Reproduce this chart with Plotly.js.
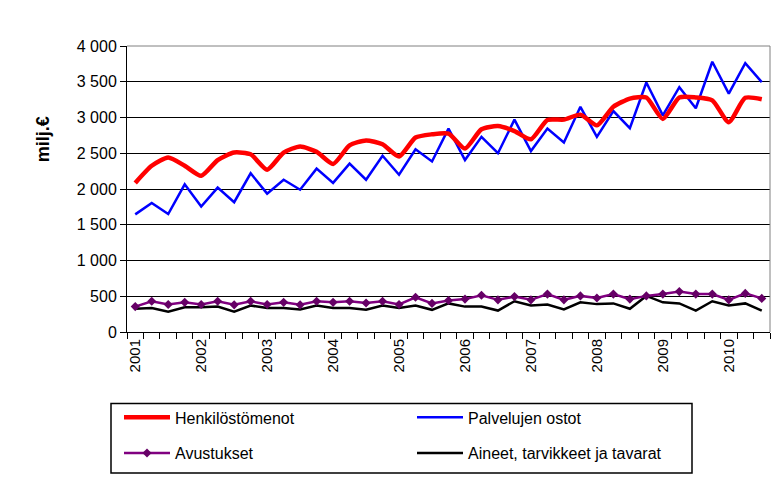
<!DOCTYPE html>
<html>
<head>
<meta charset="utf-8">
<script src="https://cdn.plot.ly/plotly-3.0.1.min.js"></script>
<style>html,body{margin:0;padding:0;background:#fff;}#chart{width:777px;height:477px;}</style>
</head>
<body>
<div id="chart"></div>
<script>
const quarters = [
  "2001 Q1","2001 Q2","2001 Q3","2001 Q4",
  "2002 Q1","2002 Q2","2002 Q3","2002 Q4",
  "2003 Q1","2003 Q2","2003 Q3","2003 Q4",
  "2004 Q1","2004 Q2","2004 Q3","2004 Q4",
  "2005 Q1","2005 Q2","2005 Q3","2005 Q4",
  "2006 Q1","2006 Q2","2006 Q3","2006 Q4",
  "2007 Q1","2007 Q2","2007 Q3","2007 Q4",
  "2008 Q1","2008 Q2","2008 Q3","2008 Q4",
  "2009 Q1","2009 Q2","2009 Q3","2009 Q4",
  "2010 Q1","2010 Q2","2010 Q3"
];
const yearLabels = ["2001","2002","2003","2004","2005","2006","2007","2008","2009","2010"];

const henkilostomenot = [2085,2325,2440,2325, 2185,2405,2510,2485, 2270,2510,2595,2520, 2350,2610,2680,2625, 2455,2720,2765,2775, 2565,2835,2880,2810, 2695,2965,2970,3040, 2890,3150,3265,3280, 2980,3280,3280,3240, 2935,3275,3255];
const palvelujenOstot = [1645,1805,1650,2065, 1755,2020,1815,2220, 1935,2130,1990,2285, 2085,2355,2130,2465, 2200,2555,2385,2845, 2405,2730,2500,2970, 2530,2845,2650,3150, 2730,3090,2850,3490, 3030,3425,3130,3780, 3335,3760,3495];
const avustukset = [355,430,385,415, 385,430,380,430, 385,415,380,430, 415,430,405,430, 385,485,400,440, 460,515,450,495, 450,530,450,505, 475,530,460,505, 530,565,530,530, 450,540,470];
const aineet = [325,335,285,345, 345,355,285,370, 335,335,315,370, 335,335,310,370, 335,370,310,400, 355,355,300,430, 370,385,315,415, 390,400,325,505, 415,400,300,430, 370,400,300];

const yTickVals = [0,500,1000,1500,2000,2500,3000,3500,4000];
const yTickText = ["0","500","1 000","1 500","2 000","2 500","3 000","3 500","4 000"];

const seriesNames = ["Henkilöstömenot","Palvelujen ostot","Avustukset","Aineet, tarvikkeet ja tavarat"];

const xIdx = quarters.map((q, i) => i);
const yearTickVals = yearLabels.map(y => quarters.indexOf(y + " Q1"));

const FONT = "Liberation Sans, Arial, sans-serif";

const traces = [
  {x: xIdx, y: aineet, name: seriesNames[3], type: "scatter", mode: "lines",
   line: {color: "#000000", width: 2.5}, legend: "legend4"},
  {x: xIdx, y: avustukset, name: seriesNames[2], type: "scatter", mode: "lines+markers",
   line: {color: "#800080", width: 2.5}, marker: {symbol: "diamond", size: 7, color: "#660066"}, legend: "legend3"},
  {x: xIdx, y: palvelujenOstot, name: seriesNames[1], type: "scatter", mode: "lines",
   line: {color: "#0000FF", width: 2.5}, legend: "legend2"},
  {x: xIdx, y: henkilostomenot, name: seriesNames[0], type: "scatter", mode: "lines",
   line: {color: "#FF0000", width: 4.5, shape: "spline", smoothing: 0.6}, legend: "legend"}
];

const W = 643, H = 288, L = 127, T = 46;
const px = v => (v - L) / W;
const py = v => (T + H - v) / H;

function leg(xp, yp) {
  return {x: px(xp), y: py(yp), xanchor: "left", yanchor: "middle", orientation: "h",
    itemwidth: 46,
    bgcolor: "rgba(0,0,0,0)", borderwidth: 0, font: {family: FONT, size: 16, color: "#000"}};
}

const layout = {
  width: 777, height: 477,
  margin: {l: L, r: 7, t: T, b: 143, pad: 0},
  paper_bgcolor: "#ffffff", plot_bgcolor: "#ffffff",
  font: {family: FONT, size: 16, color: "#000"},
  showlegend: true,
  legend: leg(119, 420),
  legend2: leg(412, 420),
  legend3: leg(119, 456),
  legend4: leg(412, 456),
  xaxis: {
    range: [-0.5, 38.5], tickmode: "array", tickvals: yearTickVals, ticktext: yearLabels,
    tickangle: -90, ticks: "", showgrid: false, zeroline: false,
    showline: true, linecolor: "#000", linewidth: 1,
    tickfont: {family: FONT, size: 15, color: "#000"},
    minor: {tick0: -0.5, dtick: 1, ticks: "outside", ticklen: 6, tickcolor: "#000", tickwidth: 1, showgrid: false}
  },
  yaxis: {
    range: [0, 4000], tickmode: "array", tickvals: yTickVals, ticktext: yTickText,
    showgrid: true, gridcolor: "#000", gridwidth: 1, zeroline: false,
    showline: true, linecolor: "#000", linewidth: 1,
    ticks: "outside", ticklen: 6, tickcolor: "#000",
    tickfont: {family: FONT, size: 16, color: "#000"}
  },
  annotations: [{
    text: "milj.€", xref: "paper", yref: "paper", x: px(43), y: py(140),
    xanchor: "center", yanchor: "middle", textangle: -90, showarrow: false,
    font: {family: FONT, size: 18, weight: "bold", color: "#000"}
  }],
  shapes: [
    {type: "line", xref: "paper", yref: "paper", x0: 0, x1: 1, y0: 1, y1: 1, line: {color: "#808080", width: 1}},
    {type: "line", xref: "paper", yref: "paper", x0: 1, x1: 1, y0: 0, y1: 1, line: {color: "#808080", width: 1}},
    {type: "rect", xref: "paper", yref: "paper", x0: px(111), x1: px(692), y0: py(476), y1: py(406),
     line: {color: "#000", width: 1.5}, fillcolor: "rgba(0,0,0,0)"}
  ]
};

Plotly.newPlot("chart", traces, layout, {displayModeBar: false, staticPlot: true});
</script>
</body>
</html>
